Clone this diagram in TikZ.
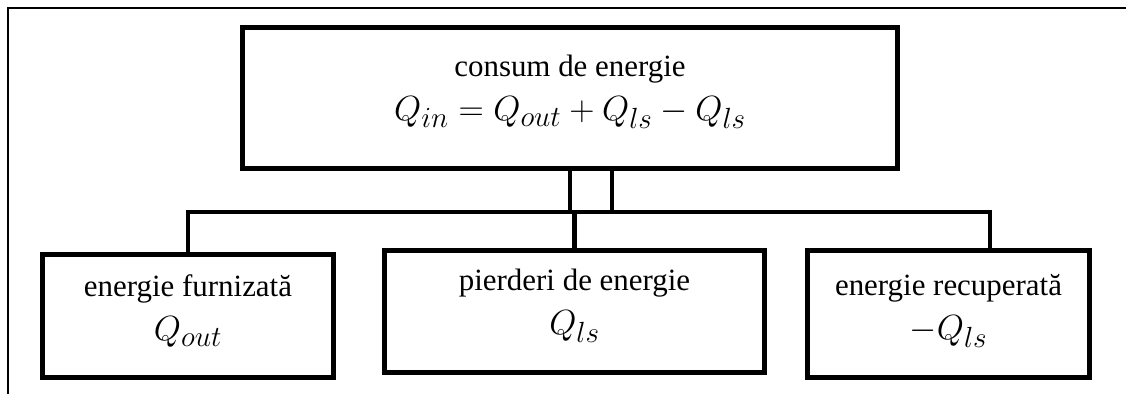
\documentclass[tikz,border=0pt]{standalone}
\usepackage{fontspec}
\setmainfont{Liberation Serif}
\newcommand{\eqsz}{\fontsize{24.88}{31}\selectfont}

\begin{document}
\begin{tikzpicture}[x=0.25mm, y=-0.25mm,
	box/.style={draw, line width=3.5pt, inner sep=0pt},
	txt/.style={align=center, font=\fontsize{22}{31}\selectfont},
	link/.style={line width=3.5pt}]
	\def \px{ 0.25mm };
	\useasboundingbox (0,0) rectangle (1126,394);
	\draw[line width=0.9pt] (1126,8) -- (8,8) -- (8,394);
	\node[box, minimum width=655*\px, minimum height=141*\px] (consum) at (570,98) {};
	\node[box, minimum width=291*\px, minimum height=123*\px] (furnizata) at (188,316) {};
	\node[box, minimum width=380*\px, minimum height=122*\px] (pierderi) at (574.5,311.5) {};
	\node[box, minimum width=282*\px, minimum height=127*\px] (recuperata) at (948.5,314) {};
	\node[txt] (t0) at (570,92) {consum de energie\\ {\eqsz$Q_{in}=Q_{out}+Q_{ls}-Q_{ls}$}};
	\node[txt] (t1) at (188,311) {energie furnizată\\ {\eqsz$Q_{out}$}};
	\node[txt] (t2) at (574.5,306) {pierderi de energie\\ {\eqsz$Q_{ls}$}};
	\node[txt] (t3) at (948.5,311) {energie recuperată\\ {\eqsz$-Q_{ls}$}};
	\coordinate (ja) at (570,212);
	\coordinate (jb) at (612,212);
	\coordinate (hr) at (990,212);
	\draw[link] (consum.south -| ja) -- (ja);
	\draw[link] (consum.south -| jb) -- (jb);
	\draw[link] (furnizata.north) |- (hr) -- (recuperata.north -| hr);
	\draw[link] (pierderi.north) -- (pierderi.north |- hr);
\end{tikzpicture}
\end{document}
